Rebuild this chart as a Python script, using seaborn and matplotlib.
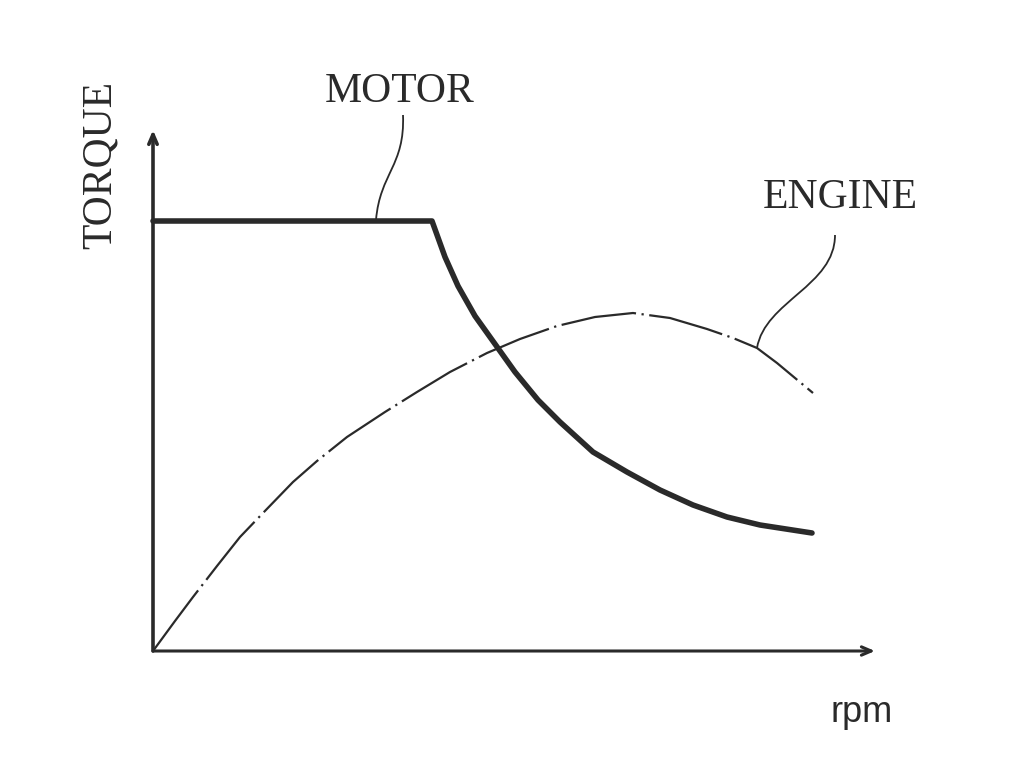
import seaborn as sns
import pandas as pd
import matplotlib.pyplot as plt
from matplotlib.path import Path
from matplotlib.patches import PathPatch

# values (x = rpm, y = torque, arbitrary units)
motor_rpm = [0, 279, 292, 305, 322, 342, 362, 385, 407, 440, 474, 507, 540, 574, 607, 659]
motor_torque = [430, 430, 394, 365, 335, 307, 279, 251, 229, 199, 179, 161, 146, 134, 126, 118]

engine_rpm = [0, 22, 40, 64, 87, 110, 140, 164, 194, 232, 264, 297, 334, 367,
              404, 442, 480, 517, 554, 580, 604, 624, 660]
engine_torque = [0, 30, 54, 85, 114, 138, 169, 190, 214, 239, 259, 279, 298, 312,
                 325, 334, 338, 333, 322, 313, 303, 288, 258]

motor = pd.DataFrame({"rpm": motor_rpm, "torque": motor_torque})
engine = pd.DataFrame({"rpm": engine_rpm, "torque": engine_torque})

sns.set_style("white")
ink = "#2a2a2a"

fig = plt.figure(figsize=(10.24, 7.68), dpi=100)
ax = fig.add_axes([153 / 1024, 117 / 768, 722 / 1024, 521 / 768])

sns.lineplot(data=motor, x="rpm", y="torque", ax=ax, color=ink, lw=4,
             estimator=None, sort=False)
sns.lineplot(data=engine, x="rpm", y="torque", ax=ax, color=ink, lw=1.6,
             estimator=None, sort=False, linestyle=(0, (34, 2.5, 1, 2.5)))
for ln in ax.lines:
    ln.set_clip_on(False)
    ln.set_solid_joinstyle("round")

ax.set_xlim(0, 722)
ax.set_ylim(0, 521)
ax.set_xticks([])
ax.set_yticks([])
ax.set_xlabel("")
ax.set_ylabel("")
for s in ax.spines.values():
    s.set_visible(False)

# axes drawn as arrows
ax.annotate("", xy=(1, 0), xytext=(0, 0), xycoords="axes fraction",
            arrowprops=dict(arrowstyle="->,head_length=0.7,head_width=0.3",
                            lw=2.2, color=ink, shrinkA=0, shrinkB=0))
ax.annotate("", xy=(0, 1), xytext=(0, 0), xycoords="axes fraction",
            arrowprops=dict(arrowstyle="->,head_length=0.7,head_width=0.3",
                            lw=2.6, color=ink, shrinkA=0, shrinkB=0))

# leader lines (s-shaped)
curve = [Path.MOVETO, Path.CURVE4, Path.CURVE4, Path.CURVE4]
motor_leader = Path([(223, 431), (227, 478), (252, 485), (250, 536)], curve)
engine_leader = Path([(604, 303), (612, 350), (682, 365), (682, 416)], curve)
for p in (motor_leader, engine_leader):
    ax.add_patch(PathPatch(p, fill=False, lw=1.3, ec=ink, clip_on=False))

serif = "Liberation Serif"
ax.text(247, 559, "MOTOR", ha="center", va="center", fontsize=30, family=serif, color=ink)
ax.text(687, 453, "ENGINE", ha="center", va="center", fontsize=30, family=serif, color=ink)
fig.text(100 / 1024, 1 - 165 / 768, "TORQUE", rotation=90, ha="center", va="center",
         fontsize=30, family=serif, color=ink)
fig.text(862 / 1024, 1 - 712 / 768, "rpm", ha="center", va="center",
         fontsize=26, family="Liberation Sans", color=ink)

fig.savefig("out.png", dpi=100, facecolor="white")
